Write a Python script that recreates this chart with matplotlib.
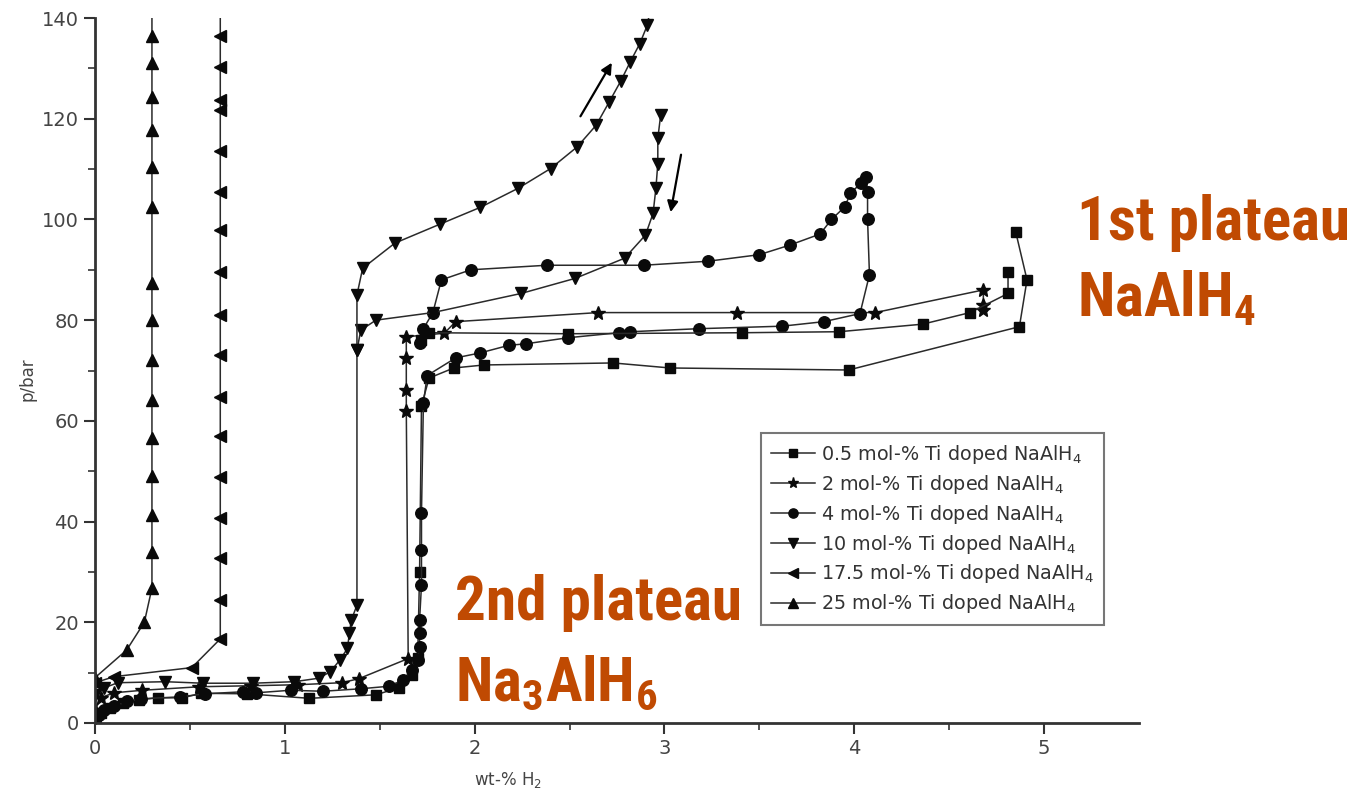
import numpy as np
import matplotlib
matplotlib.use("Agg")
import matplotlib.pyplot as plt
from matplotlib import font_manager as fm

# ---- data: wt-% H2 (x) vs pressure in bar (y) ----
ti05_x = [0.0, 0.03, 0.08, 0.15, 0.23, 0.33, 0.46, 0.56, 0.80, 1.13, 1.48, 1.60, 1.67, 1.70,
          1.71, 1.72, 1.76, 1.89, 2.05, 2.73, 3.03, 3.97, 4.87, 4.91, 4.85]
ti05_y = [0.5, 2.0, 3.0, 4.0, 4.6, 5.0, 5.0, 5.9, 5.8, 4.9, 5.6, 7.0, 9.5, 13.0,
          30.0, 63.0, 68.5, 70.5, 71.1, 71.5, 70.5, 70.1, 78.7, 88.0, 97.6]
ti05b_x = [4.81, 4.81, 4.61, 4.36, 3.92, 3.41, 2.49, 1.76, 1.72]
ti05b_y = [89.6, 85.3, 81.5, 79.2, 77.7, 77.5, 77.3, 77.5, 76.0]

ti2_x = [0.0, 0.03, 0.10, 0.25, 0.55, 0.82, 1.07, 1.30, 1.39, 1.65, 1.64, 1.64, 1.64, 1.64,
         1.84, 1.90, 2.65, 3.38, 4.11, 4.68, 4.68, 4.68]
ti2_y = [2.5, 5.0, 6.0, 6.5, 7.2, 7.4, 7.6, 8.0, 8.8, 12.8, 62.0, 66.1, 72.4, 76.7,
         77.4, 79.7, 81.5, 81.5, 81.5, 86.0, 83.0, 82.0]

ti4_x = [0.0, 0.02, 0.05, 0.10, 0.17, 0.24, 0.45, 0.58, 0.78, 0.85, 1.03, 1.20, 1.40, 1.55,
         1.62, 1.67, 1.70, 1.71, 1.71, 1.71, 1.72, 1.72, 1.72, 1.73, 1.75, 1.90, 2.03, 2.18,
         2.27, 2.49, 2.76, 2.82, 3.18, 3.62, 3.84, 4.03, 4.08, 4.07, 4.07, 4.06, 4.035, 3.98,
         3.95, 3.88, 3.82, 3.66, 3.50, 3.23, 2.89, 2.38, 1.98, 1.825, 1.78, 1.73, 1.71]
ti4_y = [0.3, 1.5, 2.5, 3.3, 4.3, 4.8, 5.2, 5.8, 6.2, 6.0, 6.5, 6.3, 6.8, 7.3,
         8.5, 10.5, 12.5, 15.0, 17.8, 20.5, 27.4, 34.4, 41.7, 63.5, 69.0, 72.5, 73.5, 75.0,
         75.3, 76.5, 77.5, 77.7, 78.3, 78.8, 79.7, 81.3, 89.0, 100.0, 105.5, 108.5, 107.2, 105.2,
         102.5, 100.0, 97.1, 94.9, 93.0, 91.7, 90.9, 90.9, 90.0, 88.0, 81.5, 78.3, 75.4]

ti10_x = [0.0, 0.05, 0.12, 0.37, 0.57, 0.83, 1.05, 1.18, 1.24, 1.29, 1.33, 1.34, 1.35, 1.38,
          1.38, 1.40, 1.48, 1.78, 2.245, 2.53, 2.79, 2.90, 2.94, 2.955, 2.965, 2.965, 2.98]
ti10_y = [5.5, 7.0, 8.0, 8.2, 7.9, 7.9, 8.2, 8.9, 10.2, 12.5, 14.8, 17.8, 20.4, 23.4,
          74.0, 78.0, 80.0, 81.5, 85.3, 88.3, 92.3, 96.9, 101.2, 106.2, 111.1, 116.1, 120.7]
ti10b_x = [1.38, 1.38, 1.41, 1.58, 1.82, 2.03, 2.23, 2.40, 2.54, 2.64, 2.71, 2.77, 2.82,
           2.87, 2.91, 2.94]
ti10b_y = [74.0, 85.0, 90.3, 95.3, 99.1, 102.4, 106.2, 110.1, 114.4, 118.7, 123.4, 127.5,
           131.3, 134.9, 138.6, 145.0]

ti175_x = [0.0, 0.10, 0.51, 0.66, 0.66, 0.66, 0.66, 0.66, 0.66, 0.66, 0.66, 0.66, 0.66,
           0.66, 0.66, 0.66, 0.66, 0.66, 0.66, 0.66, 0.66]
ti175_y = [8.0, 9.2, 11.0, 16.7, 24.4, 32.8, 40.7, 48.8, 56.9, 64.8, 73.1, 81.0, 89.6,
           97.9, 105.5, 113.5, 121.7, 123.7, 130.3, 136.4, 145.0]

ti25_x = [0.0, 0.167, 0.26, 0.30, 0.30, 0.30, 0.30, 0.30, 0.30, 0.30, 0.30, 0.30, 0.30,
          0.30, 0.30, 0.30, 0.30, 0.30, 0.30]
ti25_y = [9.0, 14.5, 20.0, 26.8, 34.0, 41.3, 49.0, 56.5, 64.2, 72.1, 80.0, 87.3, 102.5,
          110.5, 117.8, 124.4, 131.0, 136.4, 145.0]

labels = ["0.5 mol-% Ti doped NaAlH$_4$", "2 mol-% Ti doped NaAlH$_4$",
          "4 mol-% Ti doped NaAlH$_4$", "10 mol-% Ti doped NaAlH$_4$",
          "17.5 mol-% Ti doped NaAlH$_4$", "25 mol-% Ti doped NaAlH$_4$"]
markers = ["s", "*", "o", "v", "<", "^"]

x_ticks = [0, 1, 2, 3, 4, 5]
y_ticks = [0, 20, 40, 60, 80, 100, 120, 140]


def pick_family(cands):
    for f in cands:
        try:
            fm.findfont(fm.FontProperties(family=f, weight="bold"), fallback_to_default=False)
            return f
        except ValueError:
            continue
    return "DejaVu Sans"


narrow = pick_family(["Liberation Sans Narrow", "Roboto Condensed", "Arial Narrow",
                      "Liberation Sans"])

plt.rcParams["font.family"] = ["DejaVu Sans"]
plt.rcParams["mathtext.fontset"] = "dejavusans"

fig = plt.figure(figsize=(13.63, 7.99), dpi=100)
ax = fig.add_axes([95 / 1363, 1 - 723 / 799, (1139 - 95) / 1363, (723 - 18) / 799])

LC = "#2a2a2a"
MC = "#0a0a0a"
ms = {"s": 7.8, "*": 10, "o": 8.3, "v": 9, "<": 9, "^": 9}


def draw(xs, ys, mk, label=None):
    ax.plot(xs, ys, color=LC, lw=1.1, marker=mk, ms=ms[mk], mfc=MC, mec=MC, label=label)


draw(ti05_x, ti05_y, "s", labels[0])
draw(ti2_x, ti2_y, "*", labels[1])
draw(ti4_x, ti4_y, "o", labels[2])
draw(ti10_x, ti10_y, "v", labels[3])
draw(ti175_x, ti175_y, "<", labels[4])
draw(ti25_x, ti25_y, "^", labels[5])
draw(ti05b_x, ti05b_y, "s")
draw(ti10b_x, ti10b_y, "v")

# direction arrows
ax.annotate("", xy=(2.73, 131.6), xytext=(2.55, 120.0),
            arrowprops=dict(arrowstyle="-|>", color="black", lw=1.6, mutation_scale=16))
ax.annotate("", xy=(3.03, 100.9), xytext=(3.09, 113.4),
            arrowprops=dict(arrowstyle="-|>", color="black", lw=1.6, mutation_scale=16))

ax.set_xlim(0, 5.5)
ax.set_ylim(0, 140)
ax.set_xticks(x_ticks)
ax.set_yticks(y_ticks)
ax.set_xticks(np.arange(0.5, 5.5, 1.0), minor=True)
ax.set_yticks(np.arange(10, 140, 20), minor=True)
for s in ["top", "right"]:
    ax.spines[s].set_visible(False)
for s in ["left", "bottom"]:
    ax.spines[s].set_linewidth(2.0)
    ax.spines[s].set_color("#333333")
ax.tick_params(which="major", direction="out", length=8, width=1.5, colors="#333333",
               labelsize=14, labelcolor="#444444")
ax.tick_params(which="minor", direction="out", length=5, width=1.2, colors="#333333")

ax.set_xlabel("wt-% H$_2$", fontsize=12, color="#444444")
ax.xaxis.set_label_coords(0.396, -0.066)
ax.set_ylabel("p/bar", fontsize=12, color="#444444")
ax.yaxis.set_label_coords(-0.056, 0.487)

leg = ax.legend(loc="upper left", bbox_to_anchor=(0.638, 0.411), borderaxespad=0,
                fontsize=13.8, frameon=True, fancybox=False, handlelength=2.3,
                handletextpad=0.35, labelspacing=0.36, borderpad=0.5, markerscale=0.8)
leg.get_frame().set_edgecolor("#555555")
leg.get_frame().set_linewidth(1.5)
for t in leg.get_texts():
    t.set_color("#333333")

orange = "#C04A02"
big = dict(fontsize=44, fontweight="bold", color=orange, family=[narrow, "DejaVu Sans"],
           va="baseline", ha="left")
fig.text(1077 / 1363, 1 - 240 / 799, "1st plateau", **big)
fig.text(1077 / 1363, 1 - 316 / 799, r"NaAlH$\mathregular{_4}$", **big)
fig.text(455 / 1363, 1 - 620 / 799, "2nd plateau", **big)
fig.text(455 / 1363, 1 - 700 / 799, r"Na$\mathregular{_3}$AlH$\mathregular{_6}$", **big)

fig.savefig("out.png", dpi=100)
